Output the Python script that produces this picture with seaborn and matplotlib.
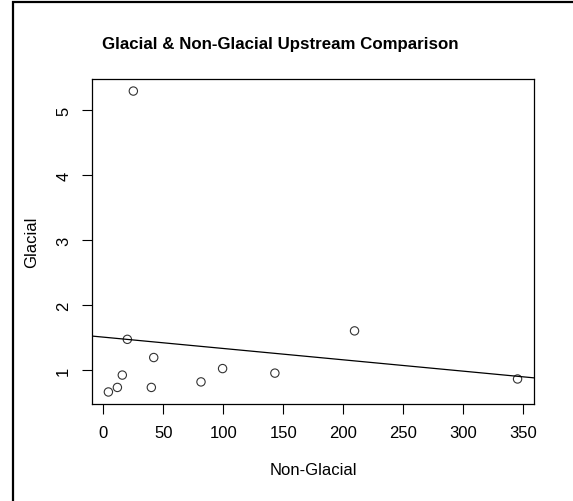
import numpy as np
import pandas as pd
import seaborn as sns
import matplotlib.pyplot as plt
from matplotlib.lines import Line2D

sns.set_style("ticks")
plt.rcParams['font.family'] = ['Liberation Sans', 'DejaVu Sans']
plt.rcParams['text.color'] = 'black'
plt.rcParams['axes.labelcolor'] = 'black'
plt.rcParams['xtick.color'] = 'black'
plt.rcParams['ytick.color'] = 'black'

# values
non_glacial = [4.2, 11.7, 15.8, 20.0, 25.0, 40.0, 42.0, 81.4, 99.4, 143.0, 209.4, 345.3]
glacial = [0.66, 0.73, 0.92, 1.47, 5.29, 0.73, 1.19, 0.815, 1.02, 0.95, 1.60, 0.86]
df = pd.DataFrame({'Non-Glacial': non_glacial, 'Glacial': glacial})

x_ticks = [0, 50, 100, 150, 200, 250, 300, 350]
y_ticks = [1, 2, 3, 4, 5]

W, H = 573, 502
fig = plt.figure(figsize=(W / 100, H / 100), dpi=100)
ax = fig.add_axes([0.1606, 0.1932, 0.7712, 0.6474])

# R style limits: data range extended by 4%
xr = max(non_glacial) - min(non_glacial)
yr = max(glacial) - min(glacial)
xlim = (min(non_glacial) - 0.04 * xr, max(non_glacial) + 0.04 * xr)
ylim = (min(glacial) - 0.04 * yr, max(glacial) + 0.04 * yr)
ax.set_xlim(xlim)
ax.set_ylim(ylim)

sns.regplot(data=df, x='Non-Glacial', y='Glacial', ax=ax, ci=None, truncate=False,
            scatter_kws={'s': 36, 'facecolors': 'none', 'edgecolors': 'black', 'linewidths': 0.8},
            line_kws={'color': 'black', 'linewidth': 0.9})

ax.set_xlim(xlim)
ax.set_ylim(ylim)

ax.set_xticks(x_ticks)
ax.set_yticks(y_ticks)
ax.set_yticklabels([str(v) for v in y_ticks], rotation=90, va='center')
ax.tick_params(direction='out', length=7, width=0.8, labelsize=12, pad=8)
for s in ax.spines.values():
    s.set_visible(True)
    s.set_linewidth(0.9)
    s.set_color('black')

ax.set_xlabel('Non-Glacial', fontsize=12, labelpad=16)
ax.set_ylabel('Glacial', fontsize=12, labelpad=12)
fig.text(280 / W, 1 - 45 / H, 'Glacial & Non-Glacial Upstream Comparison',
         fontsize=12.2, fontweight='bold', ha='center', va='center')

# partial frame: top and left edges only, as in the reference
fig.add_artist(Line2D([13 / W, 13 / W], [0, 1 - 2 / H], transform=fig.transFigure,
                      color='black', linewidth=1.6, solid_capstyle='butt'))
fig.add_artist(Line2D([12 / W, 1], [1 - 3 / H, 1 - 3 / H], transform=fig.transFigure,
                      color='black', linewidth=1.6, solid_capstyle='butt'))

fig.savefig('out.png', dpi=100, facecolor='white')
